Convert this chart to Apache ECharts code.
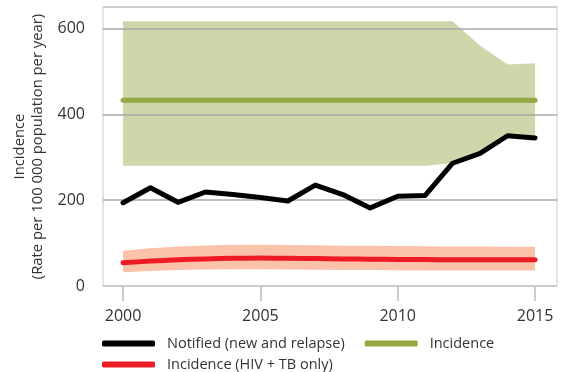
<!DOCTYPE html>
<html>
<head>
<meta charset="utf-8">
<script src="https://cdn.jsdelivr.net/npm/echarts@6/dist/echarts.min.js"></script>
<style>
html,body{margin:0;padding:0;background:#fff;}
#chart{width:562px;height:372px;}
</style>
</head>
<body>
<div id="chart"></div>
<script>
const years = [2000,2001,2002,2003,2004,2005,2006,2007,2008,2009,2010,2011,2012,2013,2014,2015];
const notified = [194,229,195,219,213,206,198,235,213,182,209,211,286,309,350,345];
const incidence = [433,433,433,433,433,433,433,433,433,433,433,433,433,433,433,433];
const incidenceLow = [280,280,280,280,280,280,280,280,280,280,280,280,286,309,350,345];
const incidenceHigh = [617,617,617,617,617,617,617,617,617,617,617,617,617,560,516,519];
const hivInc = [54,58,61,63,64.5,65,64.5,64,63,62.5,62,61.5,61,61,61,61];
const hivLow = [32,35,37,38.5,39,39,38.5,38,37.5,37,36.5,36,36,36,36,36];
const hivHigh = [82,88,92,94.5,96,96,95.5,95,94,93.5,93,92.5,92,92,91.5,91.5];
const xTicks = [2000,2005,2010,2015];
const yTicks = [0,200,400,600];

const FONT = 'Open Sans';
const pair = (arr) => years.map((y,i)=>[y, arr[i]]);

function bandSeries(name, low, high, color){
  return {
    type:'custom', name:name, silent:true, animation:false, z:-1,
    data: years.map((y,i)=>[y, low[i], high[i]]),
    encode:{x:0, y:[1,2]},
    renderItem:(params, api)=>{
      if (params.dataIndex !== 0) return null;
      const top = years.map((y,i)=>api.coord([y, high[i]]));
      const bot = years.map((y,i)=>api.coord([y, low[i]])).reverse();
      return {type:'polygon', shape:{points: top.concat(bot)}, style:{fill:color, stroke:null}};
    }
  };
}

const chart = echarts.init(document.getElementById('chart'), null, {renderer:'canvas'});
const lineCommon = {type:'line', showSymbol:false, symbol:'none', silent:true, animation:false};

chart.setOption({
  animation:false,
  textStyle:{fontFamily:FONT},
  grid:{left:103, top:7, right:5, bottom:86, show:true, borderColor:'#c8c8c8', borderWidth:1, containLabel:false},
  xAxis:{
    type:'value', min:1999.27, max:2015.8,
    axisLine:{show:true, lineStyle:{color:'#c8c8c8', width:1}},
    axisTick:{show:true, customValues:xTicks, length:15, lineStyle:{color:'#bdbdbd', width:1.5}},
    axisLabel:{customValues:xTicks, formatter:v=>String(v), color:'#333', fontSize:16, fontFamily:FONT, margin:22},
    splitLine:{show:false}
  },
  yAxis:{
    type:'value', min:0, max:650, interval:200,
    name:'Incidence\n(Rate per 100 000 population per year)',
    nameLocation:'middle', nameRotate:90, nameGap:52,
    nameTextStyle:{fontSize:14.8, color:'#333', fontFamily:FONT, lineHeight:18},
    axisLine:{show:false}, axisTick:{show:false},
    axisLabel:{customValues:yTicks, formatter:v=>String(v), color:'#333', fontSize:16, fontFamily:FONT, margin:18},
    splitLine:{show:true, lineStyle:{color:['#c8c8c8','#a9a9a9','#a9a9a9','#a9a9a9','#c8c8c8'], width:1.5}}
  },
  legend:[
    {data:['Notified (new and relapse)','Incidence'], left:97, top:331, orient:'horizontal',
     icon:'roundRect', itemWidth:53, itemHeight:6, itemGap:20,
     textStyle:{fontSize:14.5, color:'#333', fontFamily:FONT, padding:[0,0,0,7]}},
    {data:['Incidence (HIV + TB only)'], left:97, top:352, orient:'horizontal',
     icon:'roundRect', itemWidth:53, itemHeight:6,
     textStyle:{fontSize:14.5, color:'#333', fontFamily:FONT, padding:[0,0,0,7]}}
  ],
  series:[
    bandSeries('incBand', incidenceLow, incidenceHigh, '#cfd6a9'),
    bandSeries('hivBand', hivLow, hivHigh, '#fbc2aa'),
    Object.assign({}, lineCommon, {name:'Incidence', data:pair(incidence), color:'#93a93f', lineStyle:{color:'#93a93f', width:5, cap:'round', join:'round'}, z:3}),
    Object.assign({}, lineCommon, {name:'Incidence (HIV + TB only)', data:pair(hivInc), smooth:0.4, color:'#ed1c24', lineStyle:{color:'#ed1c24', width:5, cap:'round', join:'round'}, z:4}),
    Object.assign({}, lineCommon, {name:'Notified (new and relapse)', data:pair(notified), color:'#000', lineStyle:{color:'#000', width:5, cap:'round', join:'round'}, z:5})
  ]
});
</script>
</body>
</html>
